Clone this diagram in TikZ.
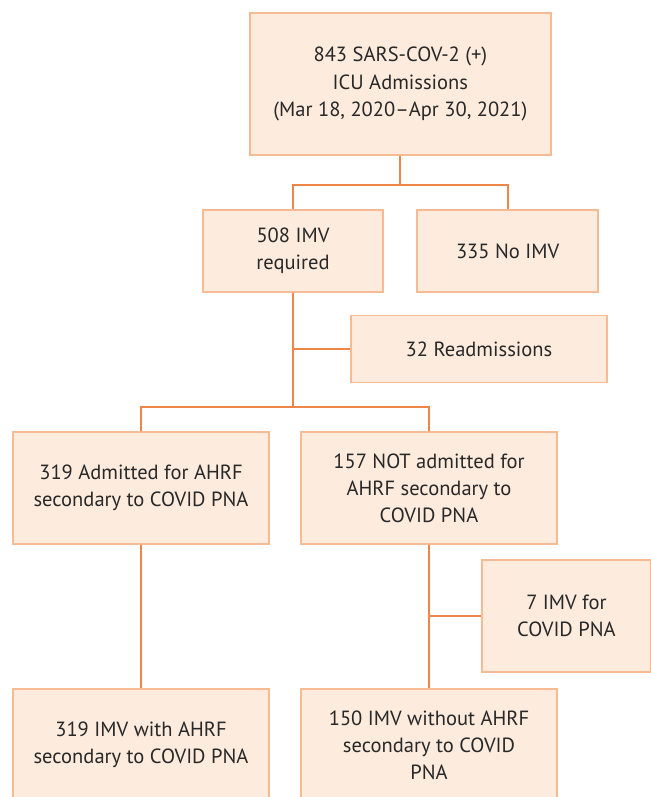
\documentclass[tikz,border=0pt]{standalone}
\usepackage{fontspec}
\setmainfont{PT Sans}
\definecolor{boxfill}{RGB}{253,235,221}
\definecolor{boxline}{RGB}{247,187,148}
\definecolor{linkline}{RGB}{240,133,74}
\definecolor{txt}{RGB}{40,40,40}

\begin{document}
\begin{tikzpicture}[
  blk/.style={draw=boxline,fill=boxfill,line width=1.4pt,text=txt,align=center,
    inner sep=2pt,font=\fontsize{14.6}{19.3}\selectfont},
  link/.style={draw=linkline,line width=1.3pt}]
\useasboundingbox (0,0) rectangle (16.25,-19.925);
\node[blk,minimum width=7.525cm,minimum height=3.55cm] (top) at (10.01,-2.1)
  {843 SARS-COV-2 (+)\\ICU Admissions\\(Mar 18, 2020--Apr 30, 2021)};
\node[blk,minimum width=4.5cm,minimum height=2.05cm] (imv) at (7.325,-6.275) {508 IMV\\required};
\node[blk,minimum width=4.525cm,minimum height=2.05cm] (noimv) at (12.69,-6.275) {335 No IMV};
\node[blk,minimum width=6.4cm,minimum height=1.675cm] (readm) at (11.975,-8.725) {32 Readmissions};
\node[blk,minimum width=6.4cm,minimum height=2.8cm] (adm) at (3.525,-12.2)
  {319 Admitted for AHRF\\secondary to COVID PNA};
\node[blk,minimum width=6.4cm,minimum height=2.8cm] (notadm) at (10.725,-12.2)
  {157 NOT admitted for\\AHRF secondary to\\COVID PNA};
\node[blk,minimum width=4.225cm,minimum height=2.8cm] (seven) at (14.16,-15.4) {7 IMV for\\COVID PNA};
\node[blk,minimum width=6.4cm,minimum height=2.8cm] (withahrf) at (3.525,-18.625)
  {319 IMV with AHRF\\secondary to COVID PNA};
\node[blk,minimum width=6.4cm,minimum height=2.8cm] (woahrf) at (10.725,-18.625)
  {150 IMV without AHRF\\secondary to COVID\\PNA};

\draw[link] (top.south) -- ++(0,-0.72) -| (imv.north);
\draw[link] (top.south) -- ++(0,-0.72) -| (noimv.north);
\draw[link] (imv.south) -- ++(0,-2.85) -| (adm.north);
\draw[link] (imv.south) -- ++(0,-2.85) -| (notadm.north);
\draw[link] (readm.west) -- (readm.west -| imv.south);
\draw[link] (adm.south) -- (withahrf.north);
\draw[link] (notadm.south) -- (woahrf.north);
\draw[link] (seven.west) -- (seven.west -| notadm.south);
\end{tikzpicture}
\end{document}
